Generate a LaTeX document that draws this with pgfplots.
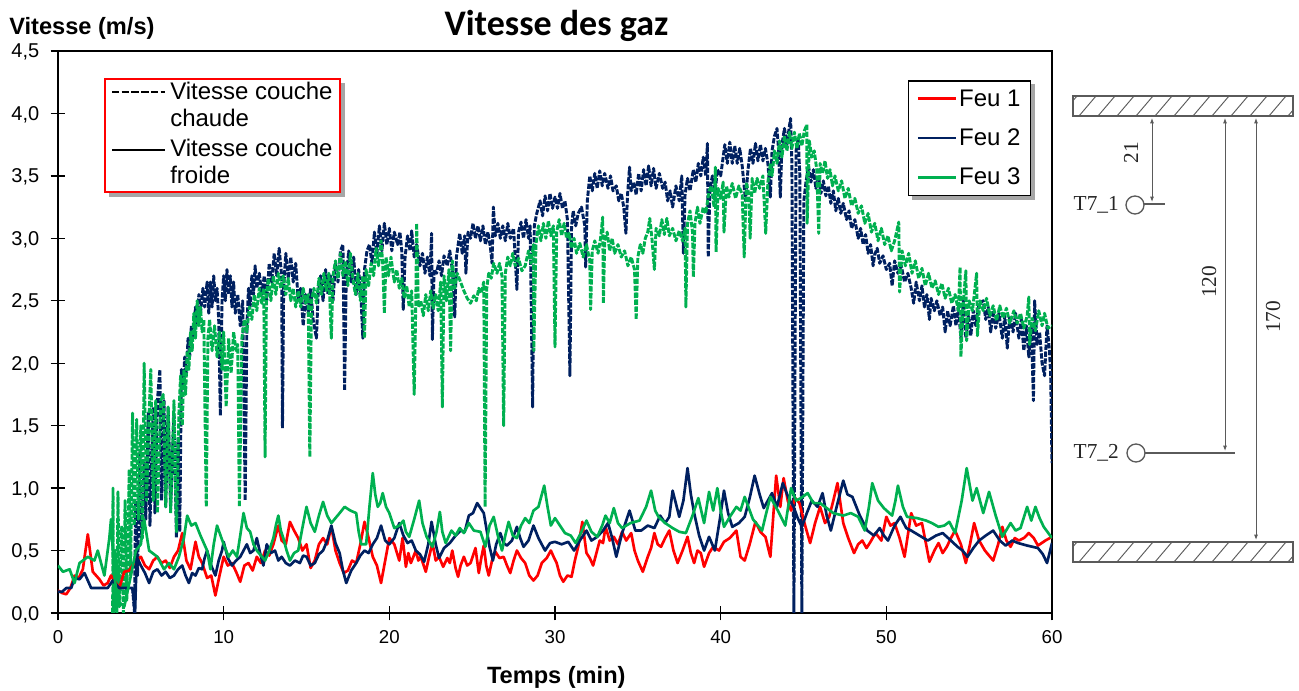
\documentclass[border=0pt]{standalone}
\usepackage{pgfplots}
\pgfplotsset{compat=1.18}
\usepackage{fontspec}
\setmainfont{Liberation Sans}
\newfontfamily\titlefont{Carlito}
\newfontfamily\diagfont{Liberation Serif}
\usetikzlibrary{arrows.meta}
\definecolor{feuA}{HTML}{FF0000}
\definecolor{feuB}{HTML}{002060}
\definecolor{feuC}{HTML}{00B050}
\definecolor{diag}{HTML}{5A5A5A}
\begin{document}
\begin{tikzpicture}
\path[use as bounding box] (0pt,0pt) rectangle (974.25pt,518.25pt);
% legend shadows
\begin{scope}[x=0.75pt,y=-0.75pt,yshift=518.25pt]
\fill[black!35] (912,84) rectangle (1035,200);
\fill[black!35] (109,83) rectangle (345,197);
\end{scope}
\begin{axis}[
  at={(43.5pt,58.5pt)}, anchor=origin,
  scale only axis, width=745.5pt, height=421.5pt,
  xmin=0, xmax=60, ymin=0, ymax=4.5,
  xtick={0,10,20,30,40,50,60}, ytick={0,0.5,1,1.5,2,2.5,3,3.5,4,4.5},
  xtick pos=bottom, ytick pos=left, tick align=center,
  major tick length=11pt,
  axis line style={line width=1.1pt,black},
  tick style={line width=1pt,black},
  /pgf/number format/assume math mode=true,
  yticklabel style={/pgf/number format/fixed,/pgf/number format/fixed zerofill,/pgf/number format/precision=1,/pgf/number format/use comma,font=\fontsize{15}{15}\selectfont,xshift=-5pt,yshift=-1pt},
  xticklabel style={/pgf/number format/fixed,/pgf/number format/precision=0,font=\fontsize{14}{14}\selectfont,yshift=-4pt},
  title={\titlefont\bfseries\fontsize{27}{28}\selectfont Vitesse des gaz},
  title style={at={(axis description cs:0.5015,1.03)},anchor=center,inner sep=0pt},
  xlabel={\bfseries\fontsize{17.7}{18}\selectfont Temps (min)},
  xlabel style={at={(axis description cs:0.5013,-0.115)},anchor=center,inner sep=0pt},
  ylabel={\bfseries\fontsize{17.7}{18}\selectfont Vitesse (m/s)},
  ylabel style={rotate=-90,at={(axis description cs:0.0241,1.041)},anchor=center,inner sep=0pt},
  legend image code/.code={\draw[#1] (0pt,0pt) -- (28.5pt,0pt);},
  legend cell align=left,
  legend style={at={(0.979,0.948)},anchor=north east,draw=black,line width=1pt,fill=white,
    font=\fontsize{18}{18}\selectfont,inner xsep=6pt,inner ysep=5pt,row sep=12.5pt,
    nodes={inner sep=1.5pt,black}},
]
% Feu 2, couche chaude
\addplot[feuB,line width=2.2pt,line join=round,dash pattern=on 4pt off 1.2pt,forget plot] coordinates {
(4.5,.2)(4.62,0)(4.68,.9)(4.8,.3)(4.95,1.3)(5.05,.6)(5.2,1.2)(5.3,.75)(5.45,1.6)(5.55,.7)(5.75,1.65)(5.85,.8)(6,1.7)(6.15,1.95)(6.25,.9)(6.4,1.7)(6.5,.85)(6.65,1.65)(6.8,.85)(7,1.6)(7.15,.6)(7.25,1.4)(7.35,.65)(7.45,1.95)(7.55,1.8)(7.65,2.05)(7.75,1.9)(7.85,2.2)(7.95,2.05)(8.05,2.3)(8.15,2.2)(8.3,2.45)(8.4,2.3)(8.5,2.55)(8.6,2.4)(8.75,2.6)(8.85,2.45)(9,2.65)(9.1,2.4)(9.2,2.65)(9.3,2.45)(9.4,2.7)(9.5,2.5)(9.6,2.6)(9.7,2.35)(9.8,1.58)(9.9,2.5)(10,2.7)(10.1,2.5)(10.2,2.75)(10.3,2.55)(10.4,2.7)(10.5,2.45)(10.6,2.65)(10.7,2.4)(10.85,2.55)(11,2.3)(11.15,2.5)(11.3,.9)(11.4,2.3)(11.5,2.6)(11.6,2.45)(11.7,2.7)(11.8,2.55)(11.9,2.78)(12,2.6)(12.15,2.72)(12.3,2.55)(12.45,2.7)(12.6,2.5)(12.75,2.8)(12.9,2.65)(13.05,2.88)(13.2,2.7)(13.35,2.92)(13.5,2.7)(13.55,1.48)(13.62,2.6)(13.75,2.88)(13.9,2.68)(14.05,2.85)(14.2,2.65)(14.35,2.8)(14.5,2.5)(14.65,2.6)(14.8,2.3)(14.95,2.55)(15.1,2.4)(15.25,2.6)(15.4,2.35)(15.6,2.2)(15.7,2.55)(15.85,2.7)(16,2.5)(16.15,2.75)(16.3,2.55)(16.45,2.7)(16.6,2.5)(16.75,2.8)(16.9,2.65)(17.05,2.9)(17.2,2.95)(17.3,1.78)(17.4,2.7)(17.55,2.9)(17.7,2.65)(17.85,2.85)(18,2.55)(18.15,2.75)(18.3,2.5)(18.4,2.2)(18.5,2.75)(18.65,2.9)(18.8,2.95)(18.95,2.8)(19.1,3.05)(19.25,2.88)(19.4,3.1)(19.55,2.9)(19.7,3.12)(19.85,2.95)(20,3.08)(20.15,2.9)(20.3,3.05)(20.5,2.95)(20.64,3.05)(20.75,2.9)(20.84,2.43)(20.95,2.85)(21.1,3.02)(21.25,2.9)(21.35,3.06)(21.5,2.85)(21.65,2.95)(21.85,2.78)(22,2.88)(22.15,2.72)(22.3,2.85)(22.45,2.7)(22.55,3.04)(22.6,2.19)(22.7,2.75)(22.85,2.72)(23,2.82)(23.15,2.7)(23.3,2.86)(23.5,2.78)(23.65,2.9)(23.8,2.75)(23.95,2.37)(24.05,2.85)(24.25,3.04)(24.4,2.88)(24.55,3.02)(24.62,2.72)(24.75,3.05)(24.9,3)(25.05,3.12)(25.2,3)(25.35,3.1)(25.5,2.98)(25.65,3.1)(25.8,2.95)(25.95,3.05)(26.1,2.93)(26.2,2.8)(26.28,3.25)(26.4,3.02)(26.55,3.12)(26.7,3)(26.85,3.1)(27,2.98)(27.15,3.12)(27.3,3)(27.5,3.08)(27.7,2.59)(27.8,3.05)(27.95,3.13)(28.1,3)(28.25,3.15)(28.4,3)(28.5,3.1)(28.65,1.65)(28.75,3.1)(28.9,3.2)(29.1,3.3)(29.25,3.18)(29.4,3.34)(29.55,3.22)(29.7,3.36)(29.85,3.24)(30,3.33)(30.15,3.24)(30.3,3.36)(30.45,3.24)(30.6,3.3)(30.75,3.15)(30.9,1.9)(31,3.1)(31.1,3.22)(31.25,3.1)(31.4,3.2)(31.6,3.25)(31.8,3.1)(31.85,2.77)(31.95,3.3)(32.1,3.5)(32.25,3.38)(32.4,3.52)(32.55,3.4)(32.7,3.54)(32.85,3.42)(33,3.52)(33.2,3.4)(33.35,3.5)(33.5,3.38)(33.7,3.42)(33.85,3.3)(34,3.36)(34.15,3.25)(34.28,3.04)(34.38,3.35)(34.5,3.57)(34.6,3.38)(34.75,3.45)(34.9,3.35)(35.05,3.52)(35.2,3.38)(35.35,3.55)(35.5,3.42)(35.65,3.58)(35.8,3.42)(35.95,3.56)(36.1,3.4)(36.3,3.52)(36.5,3.4)(36.65,3.45)(36.8,3.3)(36.95,3.38)(37.1,3.25)(37.3,3.42)(37.5,3.3)(37.65,3.5)(37.75,2.88)(37.85,3.35)(38,3.48)(38.15,3.38)(38.35,3.55)(38.5,3.45)(38.65,3.6)(38.8,3.5)(38.95,3.65)(39.1,3.5)(39.2,3.76)(39.25,2.85)(39.35,3.4)(39.5,3.5)(39.65,3.35)(39.8,3.55)(40,3.5)(40.1,3.6)(40.25,3.75)(40.4,3.6)(40.55,3.77)(40.7,3.6)(40.85,3.74)(41,3.6)(41.15,3.72)(41.3,3.58)(41.5,3.3)(41.65,3.55)(41.8,3.72)(41.95,3.6)(42.1,3.76)(42.25,3.62)(42.4,3.75)(42.55,3.62)(42.7,3.72)(42.85,3.6)(43,3.33)(43.1,3.7)(43.25,3.82)(43.4,3.88)(43.5,3.7)(43.6,3.33)(43.7,3.75)(43.85,3.88)(44,3.75)(44.15,3.9)(44.22,3.96)(44.3,3.6)(44.42,0)(44.55,3.7)(44.68,3.8)(44.78,3.5)(44.9,0)(45.02,3.3)(45.15,3.45)(45.3,3.58)(45.45,3.45)(45.6,3.55)(45.75,3.4)(45.9,3.5)(46.05,3.36)(46.2,3.46)(46.35,3.34)(46.5,3.42)(46.65,3.28)(46.8,3.38)(46.95,3.22)(47.1,3.32)(47.25,3.2)(47.4,3.28)(47.6,3.15)(47.75,3.22)(47.9,3.08)(48.1,3.15)(48.3,3)(48.45,3.08)(48.6,2.95)(48.75,3.03)(48.9,2.88)(49.05,2.95)(49.2,2.78)(49.3,2.87)(49.45,2.92)(49.6,2.8)(49.8,2.86)(50,2.75)(50.2,2.8)(50.35,2.62)(50.5,2.82)(50.7,2.72)(50.9,2.78)(51.1,2.65)(51.3,2.72)(51.5,2.6)(51.65,2.48)(51.8,2.65)(52,2.5)(52.15,2.62)(52.3,2.45)(52.45,2.55)(52.6,2.35)(52.7,2.52)(52.9,2.42)(53.05,2.5)(53.25,2.38)(53.4,2.45)(53.55,2.25)(53.7,2.42)(53.85,2.3)(54.05,2.46)(54.2,2.3)(54.35,2.45)(54.5,2.2)(54.65,2.5)(54.8,2.2)(54.95,2.4)(55.1,2.22)(55.25,2.42)(55.4,2.3)(55.6,2.48)(55.85,2.5)(56,2.35)(56.15,2.45)(56.3,2.25)(56.45,2.42)(56.6,2.28)(56.8,2.4)(57,2.2)(57.15,2.38)(57.3,2.12)(57.45,2.38)(57.65,2.25)(57.8,2.4)(58,2.2)(58.15,2.35)(58.3,2.1)(58.45,2.3)(58.6,2.05)(58.75,2.3)(58.88,1.7)(58.95,2.5)(59.1,2.15)(59.25,2.25)(59.4,2)(59.55,1.9)(59.7,2.3)(59.85,2.1)(59.92,1.9)(60,1.2)
};
% Feu 3, couche chaude
\addplot[feuC,line width=2.2pt,line join=round,dash pattern=on 4pt off 1.2pt,forget plot] coordinates {
(3.3,0)(3.32,1)(3.35,0)(3.45,.5)(3.55,0)(3.62,.97)(3.7,.05)(3.85,.7)(3.95,0)(4.05,.9)(4.15,.1)(4.3,1.15)(4.38,.3)(4.5,1.6)(4.6,.7)(4.75,1.55)(4.85,.75)(5,1.5)(5.1,.6)(5.2,2)(5.35,.9)(5.5,1.6)(5.6,1.95)(5.75,.9)(5.9,1.7)(6,.8)(6.2,1.7)(6.35,1.75)(6.5,.85)(6.65,1.65)(6.8,.8)(7,1.7)(7.15,.65)(7.3,1.6)(7.4,1.9)(7.5,1.5)(7.6,1.95)(7.7,1.75)(7.8,2.1)(7.9,1.95)(8,2.25)(8.1,2.1)(8.2,2.4)(8.3,2.2)(8.4,2.5)(8.5,2.3)(8.6,2.45)(8.7,2.25)(8.8,2.35)(8.95,.85)(9.05,2.2)(9.15,2.35)(9.3,2.1)(9.45,2.3)(9.6,2.05)(9.75,2.25)(9.9,1.95)(10,2.25)(10.15,1.65)(10.3,2.2)(10.45,1.92)(10.6,2.25)(10.75,2.1)(10.85,2.15)(10.95,.85)(11.1,2.2)(11.25,2.35)(11.4,2.25)(11.55,2.45)(11.7,2.35)(11.85,2.55)(12,2.42)(12.15,2.6)(12.3,2.48)(12.42,2.6)(12.5,1.25)(12.58,2.55)(12.7,2.68)(12.85,2.5)(13,2.7)(13.15,2.55)(13.3,2.72)(13.45,2.6)(13.6,2.7)(13.75,2.55)(13.9,2.68)(14.05,2.5)(14.2,2.6)(14.35,2.45)(14.5,2.58)(14.65,2.45)(14.8,2.6)(14.95,2.48)(15.1,2.55)(15.2,1.25)(15.3,2.5)(15.45,2.6)(15.6,2.48)(15.75,2.68)(15.9,2.55)(16.05,2.72)(16.2,2.58)(16.35,2.72)(16.5,2.2)(16.6,2.7)(16.75,2.82)(16.9,2.68)(17.05,2.88)(17.2,2.7)(17.35,2.82)(17.5,2.62)(17.65,2.88)(17.8,2.68)(17.95,2.55)(18.1,2.72)(18.25,2.5)(18.4,2.7)(18.5,2.2)(18.6,2.75)(18.75,2.62)(18.9,2.8)(19.05,2.7)(19.2,2.92)(19.35,2.78)(19.5,2.98)(19.6,2.8)(19.7,2.4)(19.8,2.85)(19.95,2.7)(20.1,2.85)(20.3,2.65)(20.45,2.75)(20.6,2.6)(20.75,2.68)(20.9,2.52)(21.05,2.62)(21.2,2.45)(21.35,2.58)(21.5,1.75)(21.6,2.5)(21.65,3.12)(21.75,2.45)(21.9,2.5)(22.05,2.38)(22.2,2.55)(22.35,2.42)(22.5,2.58)(22.65,2.44)(22.8,2.55)(22.95,2.42)(23.1,2.65)(23.2,1.65)(23.3,2.7)(23.45,2.5)(23.6,2.75)(23.7,2.1)(23.8,2.82)(23.95,2.6)(24.1,2.72)(24.3,2.65)(24.5,2.58)(24.7,2.52)(24.9,2.48)(25.1,2.54)(25.25,2.5)(25.4,2.6)(25.55,2.56)(25.7,2.65)(25.78,.85)(25.88,2.6)(26,2.72)(26.15,2.68)(26.3,2.8)(26.5,2.72)(26.65,2.8)(26.8,2.7)(26.9,1.5)(27,2.72)(27.15,2.85)(27.3,2.78)(27.45,2.88)(27.6,2.78)(27.8,2.84)(28,2.74)(28.2,2.78)(28.4,2.9)(28.55,2.8)(28.7,2.95)(28.72,2.1)(28.85,2.95)(29,3.1)(29.15,2.98)(29.3,3.12)(29.45,3)(29.6,3.14)(29.75,3.02)(29.9,3.1)(30,2.13)(30.1,3.05)(30.25,3.15)(30.4,3.02)(30.55,3.12)(30.7,3)(30.85,3.04)(31,2.92)(31.15,3)(31.3,2.88)(31.5,2.96)(31.7,2.85)(31.9,2.95)(32.1,2.82)(32.15,2.43)(32.25,2.9)(32.4,2.98)(32.6,2.88)(32.75,3)(32.88,3.17)(32.92,2.48)(33,2.98)(33.15,3.05)(33.3,2.9)(33.45,3)(33.6,2.88)(33.8,2.95)(34,2.85)(34.2,2.9)(34.4,2.78)(34.6,2.85)(34.8,2.75)(34.9,2.35)(35,2.85)(35.15,2.95)(35.3,2.88)(35.45,3)(35.6,3.05)(35.72,3.16)(35.85,3)(36,2.75)(36.1,3.08)(36.3,3.02)(36.45,3.15)(36.6,3.03)(36.75,3.16)(36.9,3.02)(37.1,3.08)(37.3,2.98)(37.5,3.06)(37.7,2.98)(37.85,3.08)(37.9,2.45)(38,3.12)(38.15,3.22)(38.3,3.05)(38.35,2.69)(38.45,3.12)(38.6,3.25)(38.75,3.12)(38.95,3.25)(39.1,3.2)(39.3,3.38)(39.45,3.42)(39.6,3.25)(39.68,3.57)(39.72,2.89)(39.85,3.4)(40,3.32)(40.15,3.45)(40.2,3.05)(40.35,3.42)(40.5,3.33)(40.7,3.44)(40.9,3.32)(41.1,3.42)(41.3,3.35)(41.42,2.85)(41.55,3.45)(41.7,3.35)(41.78,3)(41.9,3.48)(42.05,3.36)(42.2,3.48)(42.35,3.4)(42.55,3.5)(42.72,3.04)(42.85,3.45)(43,3.6)(43.1,3.5)(43.25,3.7)(43.4,3.6)(43.55,3.78)(43.7,3.65)(43.85,3.82)(44,3.7)(44.15,3.85)(44.3,3.72)(44.45,3.85)(44.6,3.72)(44.75,3.84)(44.9,3.74)(45.05,3.86)(45.2,3.91)(45.22,3.12)(45.35,3.78)(45.5,3.65)(45.65,3.7)(45.8,3.55)(45.92,3.04)(46,3.6)(46.15,3.52)(46.3,3.62)(46.45,3.48)(46.6,3.55)(46.75,3.42)(46.9,3.5)(47.1,3.38)(47.3,3.46)(47.5,3.32)(47.7,3.4)(47.9,3.26)(48.1,3.32)(48.3,3.2)(48.5,3.26)(48.7,3.12)(48.9,3.2)(49.1,3.05)(49.3,3.12)(49.5,2.98)(49.7,3.08)(49.9,2.95)(50.1,3.02)(50.3,2.9)(50.5,2.98)(50.75,3.13)(50.8,2.57)(50.95,2.9)(51.15,2.78)(51.35,2.88)(51.55,2.72)(51.75,2.82)(51.95,2.68)(52.15,2.76)(52.35,2.62)(52.55,2.72)(52.75,2.6)(52.95,2.66)(53.15,2.55)(53.35,2.64)(53.55,2.52)(53.75,2.6)(53.95,2.48)(54.15,2.55)(54.35,2.42)(54.45,2.77)(54.5,2.05)(54.65,2.5)(54.8,2.74)(54.85,2.18)(55,2.5)(55.2,2.42)(55.45,2.72)(55.5,2.22)(55.65,2.5)(55.85,2.42)(56.05,2.52)(56.25,2.38)(56.45,2.46)(56.65,2.34)(56.85,2.46)(57.05,2.36)(57.25,2.44)(57.45,2.32)(57.7,2.42)(57.9,2.32)(58.1,2.4)(58.3,2.28)(58.5,2.38)(58.6,2.53)(58.65,2.15)(58.8,2.36)(59,2.26)(59.2,2.42)(59.4,2.3)(59.55,2.4)(59.75,2.28)(60,2.3)
};
% couches froides
\addplot[feuA,line width=2pt,line join=round] coordinates {
(0,.18)(.25,.16)(.5,.15)(.75,.2)(1,.3)(1.25,.28)(1.5,.35)(1.8,.63)(2.1,.33)(2.3,.3)(2.5,.27)(2.75,.22)(3,.24)(3.2,.3)(3.45,.25)(3.7,.2)(4,.33)(4.3,.34)(4.6,.4)(5,.45)(5.25,.38)(5.5,.35)(5.75,.42)(6,.45)(6.25,.4)(6.5,.42)(6.75,.36)(7,.45)(7.25,.5)(7.5,.64)(7.75,.42)(8,.35)(8.3,.57)(8.5,.45)(8.7,.4)(9,.28)(9.25,.3)(9.5,.14)(9.75,.3)(10,.45)(10.25,.38)(10.5,.4)(10.75,.33)(11,.25)(11.25,.38)(11.5,.4)(11.75,.34)(12,.45)(12.25,.4)(12.5,.5)(12.75,.46)(13,.55)(13.3,.7)(13.5,.58)(13.75,.55)(14,.73)(14.25,.66)(14.5,.6)(14.75,.5)(15,.55)(15.25,.36)(15.5,.42)(15.75,.55)(16,.6)(16.25,.55)(16.5,.69)(16.75,.5)(17,.4)(17.25,.32)(17.5,.34)(17.75,.42)(18,.4)(18.25,.55)(18.5,.73)(18.75,.6)(19,.45)(19.25,.38)(19.5,.24)(19.75,.42)(20,.6)(20.3,.55)(20.6,.42)(20.8,.6)(21,.37)(21.15,.48)(21.3,.4)(21.6,.5)(21.75,.42)(21.9,.45)(22.2,.33)(22.4,.45)(22.6,.56)(22.8,.42)(23,.45)(23.25,.37)(23.5,.44)(23.65,.4)(23.8,.5)(24,.36)(24.15,.29)(24.3,.38)(24.5,.45)(24.7,.38)(24.9,.4)(25.2,.52)(25.4,.32)(25.55,.44)(25.7,.54)(25.85,.38)(26,.3)(26.2,.42)(26.4,.49)(26.65,.44)(26.9,.45)(27.1,.38)(27.3,.32)(27.5,.42)(27.7,.5)(27.95,.44)(28.2,.4)(28.45,.3)(28.7,.26)(28.95,.3)(29.2,.4)(29.5,.44)(29.75,.5)(29.95,.44)(30.1,.4)(30.3,.3)(30.5,.25)(30.75,.3)(31,.29)(31.2,.42)(31.4,.53)(31.65,.73)(31.9,.48)(32.1,.44)(32.3,.38)(32.5,.48)(32.7,.58)(32.9,.56)(33.05,.69)(33.3,.58)(33.55,.61)(33.8,.55)(34.05,.65)(34.3,.58)(34.6,.64)(34.8,.5)(35,.42)(35.3,.33)(35.6,.45)(35.8,.52)(36,.64)(36.2,.55)(36.4,.53)(36.65,.6)(36.9,.66)(37.15,.5)(37.4,.4)(37.7,.5)(38,.61)(38.2,.48)(38.4,.4)(38.6,.5)(38.8,.48)(39,.37)(39.3,.48)(39.55,.53)(39.9,.5)(40.2,.57)(40.55,.6)(40.95,.66)(41.2,.45)(41.45,.42)(41.75,.55)(42.1,.73)(42.4,.65)(42.7,.61)(43,.45)(43.35,1.1)(43.6,.85)(43.8,1.08)(44.05,.9)(44.25,.82)(44.5,.92)(44.75,.88)(45.1,.7)(45.4,.56)(45.7,.72)(46,.85)(46.3,.72)(46.55,.77)(46.8,.9)(47.05,1.04)(47.4,.72)(47.7,.6)(48.05,.48)(48.3,.55)(48.55,.58)(48.8,.52)(49,.56)(49.35,.64)(49.7,.58)(50,.77)(50.25,.7)(50.5,.72)(50.8,.6)(51.1,.45)(51.5,.8)(51.8,.7)(52.15,.72)(52.4,.55)(52.6,.41)(52.9,.5)(53.15,.56)(53.4,.48)(53.65,.53)(53.9,.6)(54.15,.66)(54.5,.55)(54.8,.4)(55.05,.55)(55.3,.72)(55.6,.58)(55.95,.5)(56.2,.46)(56.45,.42)(56.75,.55)(57,.69)(57.25,.58)(57.5,.53)(57.75,.6)(58,.58)(58.3,.6)(58.6,.64)(58.9,.6)(59.15,.54)(59.6,.58)(60,.61)
};
\addlegendentry{Feu 1}
\addplot[feuB,line width=2pt,line join=round] coordinates {
(0,.17)(.25,.17)(.5,.2)(.8,.2)(1,.28)(1.3,.27)(1.6,.32)(2,.2)(2.5,.2)(3,.2)(3.3,.26)(3.7,.2)(4.2,.2)(4.5,.2)(4.65,0)(4.75,.45)(5,.38)(5.25,.32)(5.5,.24)(5.75,.33)(6,.35)(6.25,.3)(6.5,.33)(6.75,.28)(7,.3)(7.25,.35)(7.5,.38)(7.7,.3)(7.9,.24)(8.1,.32)(8.3,.3)(8.5,.36)(8.7,.35)(8.85,.44)(9,.5)(9.25,.38)(9.5,.3)(9.7,.42)(9.9,.5)(10,.57)(10.25,.44)(10.5,.38)(10.75,.42)(11,.45)(11.2,.5)(11.4,.55)(11.6,.48)(11.8,.5)(12,.6)(12.2,.48)(12.4,.38)(12.6,.55)(12.85,.48)(13.1,.5)(13.3,.42)(13.5,.45)(13.75,.4)(14,.38)(14.3,.42)(14.6,.4)(14.8,.46)(15,.45)(15.25,.38)(15.5,.4)(15.75,.47)(16,.5)(16.25,.58)(16.5,.7)(16.75,.56)(17,.48)(17.2,.34)(17.4,.24)(17.7,.34)(18,.4)(18.25,.46)(18.5,.5)(18.75,.48)(19,.55)(19.25,.6)(19.5,.7)(19.75,.58)(20,.55)(20.3,.6)(20.6,.72)(20.85,.62)(21.1,.56)(21.35,.58)(21.6,.5)(21.85,.47)(22.1,.41)(22.35,.55)(22.55,.73)(22.8,.55)(23,.44)(23.3,.52)(23.65,.56)(24,.62)(24.3,.66)(24.55,.65)(24.8,.78)(25.05,.8)(25.3,.88)(25.5,.84)(25.7,.8)(26.05,.53)(26.25,.42)(26.45,.55)(26.7,.64)(26.9,.56)(27.1,.54)(27.4,.58)(27.7,.69)(27.9,.6)(28.1,.53)(28.4,.58)(28.7,.7)(29,.6)(29.4,.5)(29.7,.56)(30,.57)(30.4,.55)(30.8,.57)(31.15,.5)(31.5,.58)(31.9,.66)(32.2,.58)(32.55,.61)(32.9,.66)(33.2,.72)(33.45,.6)(33.7,.45)(34.05,.64)(34.5,.82)(34.85,.66)(35.2,.66)(35.6,.7)(36,.68)(36.35,.78)(36.65,.72)(36.9,.77)(37.1,.98)(37.5,.77)(37.75,.9)(38,1.16)(38.2,.95)(38.4,.8)(38.7,.62)(39,.5)(39.3,.61)(39.65,.5)(39.95,.75)(40.2,.98)(40.45,.8)(40.7,.69)(41.1,.72)(41.45,.77)(41.75,.92)(42.05,1.1)(42.35,.95)(42.6,.84)(43.1,.96)(43.4,.85)(43.75,1.04)(44.1,.92)(44.4,.85)(44.65,.76)(44.9,.69)(45.2,.8)(45.5,.9)(45.85,.85)(46.15,.96)(46.4,.78)(46.65,.66)(47,.85)(47.4,1.06)(47.65,.95)(47.95,.93)(48.4,.78)(48.85,.66)(49.25,.62)(49.6,.68)(49.85,.62)(50.1,.58)(50.5,.7)(50.85,.77)(51.2,.68)(51.5,.66)(52,.62)(52.5,.58)(53,.62)(53.4,.64)(53.9,.58)(54.3,.53)(54.6,.5)(54.9,.45)(55.25,.52)(55.6,.58)(56,.62)(56.45,.66)(56.85,.58)(57.2,.54)(57.6,.58)(57.95,.56)(58.5,.54)(59.15,.52)(59.45,.47)(59.7,.4)(60,.56)
};
\addlegendentry{Feu 2}
\addplot[feuC,line width=2pt,line join=round] coordinates {
(0,.38)(.3,.33)(.7,.35)(1,.24)(1.3,.4)(1.8,.45)(2.2,.42)(2.4,.5)(2.8,.3)(3.1,.6)(3.2,.75)(3.4,.3)(3.6,.1)(4,.05)(4.4,.3)(4.7,.5)(5,.55)(5.2,.75)(5.5,.5)(6,.45)(6.4,.35)(6.7,.4)(7,.35)(7.3,.45)(7.6,.6)(7.8,.78)(8.05,.7)(8.3,.72)(8.6,.62)(9,.5)(9.2,.35)(9.4,.55)(9.6,.7)(10,.55)(10.3,.45)(10.55,.5)(10.8,.45)(11,.62)(11.2,.8)(11.4,.68)(11.6,.65)(11.8,.55)(12,.5)(12.25,.46)(12.5,.42)(12.75,.5)(13,.6)(13.15,.7)(13.3,.78)(13.45,.66)(13.6,.6)(13.8,.5)(14,.42)(14.25,.48)(14.5,.5)(14.75,.68)(15,.85)(15.25,.72)(15.5,.65)(15.75,.78)(16,.89)(16.25,.78)(16.5,.72)(16.75,.76)(17,.8)(17.3,.85)(17.65,.82)(18,.8)(18.15,.65)(18.3,.55)(18.6,.55)(18.8,.85)(19,1.12)(19.15,.95)(19.3,.85)(19.45,.88)(19.6,.96)(19.8,.85)(20,.8)(20.3,.68)(20.6,.7)(20.85,.74)(21,.65)(21.2,.61)(21.5,.75)(21.8,.9)(22,.72)(22.25,.61)(22.6,.53)(22.85,.65)(23.05,.81)(23.2,.65)(23.4,.56)(23.75,.66)(24,.62)(24.25,.68)(24.5,.64)(24.8,.72)(25.1,.66)(25.5,.65)(25.8,.53)(26.05,.7)(26.3,.77)(26.55,.62)(26.8,.5)(27,.62)(27.2,.73)(27.45,.62)(27.7,.6)(27.95,.7)(28.2,.76)(28.45,.72)(28.7,.82)(29,.85)(29.35,1.02)(29.55,.85)(29.75,.7)(30,.76)(30.3,.7)(30.6,.64)(30.95,.62)(31.25,.56)(31.6,.65)(31.9,.74)(32.2,.65)(32.55,.61)(32.85,.7)(33.05,.78)(33.3,.72)(33.55,.84)(33.8,.72)(34.05,.68)(34.55,.72)(35.1,.74)(35.5,.85)(35.8,.98)(36.05,.82)(36.25,.77)(36.65,.72)(37.1,.68)(37.5,.65)(37.9,.64)(38.3,.78)(38.65,.92)(39,.72)(39.3,.97)(39.55,.82)(39.8,1)(40,.82)(40.2,.69)(40.6,.78)(40.95,.85)(41.2,.82)(41.45,.93)(41.95,.75)(42.5,.66)(42.75,.8)(43,.93)(43.45,.82)(43.9,.7)(44.25,1)(44.55,.9)(44.85,.92)(45.25,.96)(45.6,.88)(46,.88)(46.4,.84)(46.8,.8)(47.4,.78)(47.85,.8)(48.3,.77)(48.7,.66)(48.95,.85)(49.15,1.04)(49.5,.9)(49.85,.84)(50.35,.78)(50.55,.9)(50.7,1.02)(51,.85)(51.25,.77)(51.85,.76)(52.4,.74)(52.75,.72)(53.15,.69)(53.5,.7)(53.8,.73)(54.15,.64)(54.55,.9)(54.85,1.16)(55.2,.9)(55.45,1)(55.85,.8)(56.2,.97)(56.6,.78)(57,.61)(57.5,.72)(57.8,.66)(58.1,.68)(58.5,.85)(58.75,.74)(59,.85)(59.25,.76)(59.5,.69)(60,.6)
};
\addlegendentry{Feu 3}
\end{axis}
% left legend and section drawing, in pixels of the page
\begin{scope}[x=0.75pt,y=-0.75pt,yshift=518.25pt]
\draw[red,line width=1.1pt,fill=white] (105,79) rectangle (340,192);
\draw[black,line width=1.6pt,dash pattern=on 5.5pt off 1.8pt] (112,92) -- (165,92);
\draw[black,line width=1.7pt] (112,150) -- (165,150);
\foreach \yy/\tt in {91/Vitesse couche,118/chaude,148/Vitesse couche,175/froide}
  \node[anchor=west,inner sep=0pt,font=\fontsize{18}{18}\selectfont] at (170,\yy) {\tt};
% walls
\foreach \ya in {96,542}{
  \begin{scope}
    \clip (1073,\ya) rectangle (1293,\ya+20);
    \foreach \xx in {1060,1079,...,1300}
      \draw[diag,line width=.7pt] (\xx,\ya+20) -- (\xx+17,\ya);
  \end{scope}
  \draw[diag,line width=1.1pt] (1073,\ya) rectangle (1293,\ya+20);
}
\draw[diag,line width=1pt] (1135,205) circle (9);
\draw[diag,line width=1pt] (1144,204) -- (1165,204);
\draw[diag,line width=1pt] (1136,453) circle (9);
\draw[diag,line width=1pt] (1145,453) -- (1235,453);
\draw[diag,line width=.7pt,{Latex[length=4pt,width=3pt]}-{Latex[length=4pt,width=3pt]}] (1152,118) -- (1152,202);
\draw[diag,line width=.7pt,{Latex[length=4pt,width=3pt]}-{Latex[length=4pt,width=3pt]}] (1225,118) -- (1225,451);
\draw[diag,line width=.7pt,{Latex[length=4pt,width=3pt]}-{Latex[length=4pt,width=3pt]}] (1256,118) -- (1256,540);
\node[anchor=east,inner sep=0pt,text=black!85,font=\diagfont\fontsize{16}{16}\selectfont] at (1119,205) {T7\_1};
\node[anchor=east,inner sep=0pt,text=black!85,font=\diagfont\fontsize{16}{16}\selectfont] at (1119,453) {T7\_2};
\node[rotate=90,inner sep=0pt,text=black!85,font=\diagfont\fontsize{16}{16}\selectfont] at (1131,153) {21};
\node[rotate=90,inner sep=0pt,text=black!85,font=\diagfont\fontsize{16}{16}\selectfont] at (1209,282) {120};
\node[rotate=90,inner sep=0pt,text=black!85,font=\diagfont\fontsize{16}{16}\selectfont] at (1273,317) {170};
\end{scope}
\end{tikzpicture}
\end{document}
